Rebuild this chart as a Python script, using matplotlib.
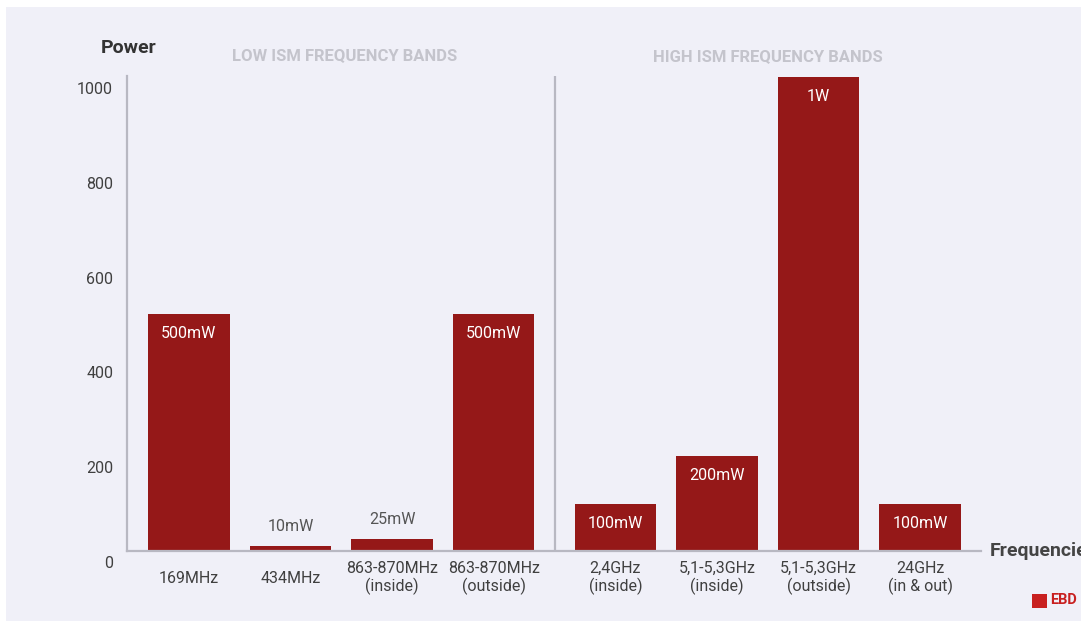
import matplotlib
matplotlib.use("Agg")
import matplotlib.pyplot as plt
import matplotlib.transforms as mtransforms
from matplotlib.patches import Rectangle

plt.rcParams['font.family'] = ['Roboto', 'DejaVu Sans']

# data
bands = ['169MHz', '434MHz', '863-870MHz\n(inside)', '863-870MHz\n(outside)',
         '2,4GHz\n(inside)', '5,1-5,3GHz\n(inside)', '5,1-5,3GHz\n(outside)', '24GHz\n(in & out)']
power = [500, 10, 25, 500, 100, 200, 1000, 100]
power_labels = ['500mW', '10mW', '25mW', '500mW', '100mW', '200mW', '1W', '100mW']
positions = [0, 1, 2, 3, 4.2, 5.2, 6.2, 7.2]
y_ticks = [0, 200, 400, 600, 800, 1000]
group_titles = ['LOW ISM FREQUENCY BANDS', 'HIGH ISM FREQUENCY BANDS']

bg = '#f0f0f8'
bar_color = '#951818'
axis_color = '#b8b8c2'

W, H = 1081, 621
fig = plt.figure(figsize=(W / 100, H / 100), dpi=100, facecolor='white')
fig.patches.append(Rectangle((6 / W, 0), 1, 1 - 7 / H, transform=fig.transFigure,
                             facecolor=bg, edgecolor='none', zorder=-10))

ax = fig.add_axes([127 / W, 70 / H, 854 / W, 475 / H])
ax.set_facecolor('none')

ax.bar(positions, power, width=0.8, color=bar_color, zorder=2)
ax.set_xlim(-0.61, 7.8)
ax.set_ylim(0, 1002)

for s in ['top', 'right']:
    ax.spines[s].set_visible(False)
for s in ['left', 'bottom']:
    ax.spines[s].set_color(axis_color)
    ax.spines[s].set_linewidth(1.6)

ax.axvline(3.6, color=axis_color, lw=1.6, zorder=1)

# value labels
for x, v, lab in zip(positions, power, power_labels):
    if v >= 100:
        ax.annotate(lab, (x, v), xytext=(0, -14), textcoords='offset points',
                    ha='center', va='center', color='white', fontsize=11.5)
    else:
        ax.annotate(lab, (x, v), xytext=(0, 14.5), textcoords='offset points',
                    ha='center', va='center', color='#555555', fontsize=11.5)

# x ticks
ax.set_xticks(positions)
ax.set_xticklabels(bands, fontsize=11.5, color='#404040', linespacing=1.15)
ax.tick_params(axis='x', length=0, pad=19.5)
for t in ax.get_xticklabels():
    t.set_va('center')

# y ticks, labels sit a bit below their values
ax.set_yticks(y_ticks)
ax.set_yticklabels([str(v) for v in y_ticks], fontsize=11.5, color='#404040')
ax.tick_params(axis='y', length=0, pad=10)
offset = mtransforms.ScaledTranslation(0, -0.11, fig.dpi_scale_trans)
for t in ax.get_yticklabels():
    t.set_transform(t.get_transform() + offset)

# titles
fig.text(129 / W, 1 - 48 / H, 'Power', ha='center', va='center',
         fontsize=14, fontweight='bold', color='#333333')
fig.text(990 / W, 1 - 551 / H, 'Frequencies', ha='left', va='center',
         fontsize=14, fontweight='bold', color='#444444')
fig.text(345 / W, 1 - 56 / H, group_titles[0], ha='center', va='center',
         fontsize=12, fontweight='bold', color='#c4c4cc')
fig.text(768 / W, 1 - 57 / H, group_titles[1], ha='center', va='center',
         fontsize=12, fontweight='bold', color='#c4c4cc')

# logo
fig.patches.append(Rectangle((1032 / W, 1 - 608 / H), 15 / W, 14 / H,
                             transform=fig.transFigure, facecolor='#c82020', edgecolor='none'))
fig.text(1050 / W, 1 - 600 / H, 'EBD', ha='left', va='center',
         fontsize=10.5, fontweight='bold', color='#c82020')

fig.savefig('out.png', dpi=100, facecolor=fig.get_facecolor())
